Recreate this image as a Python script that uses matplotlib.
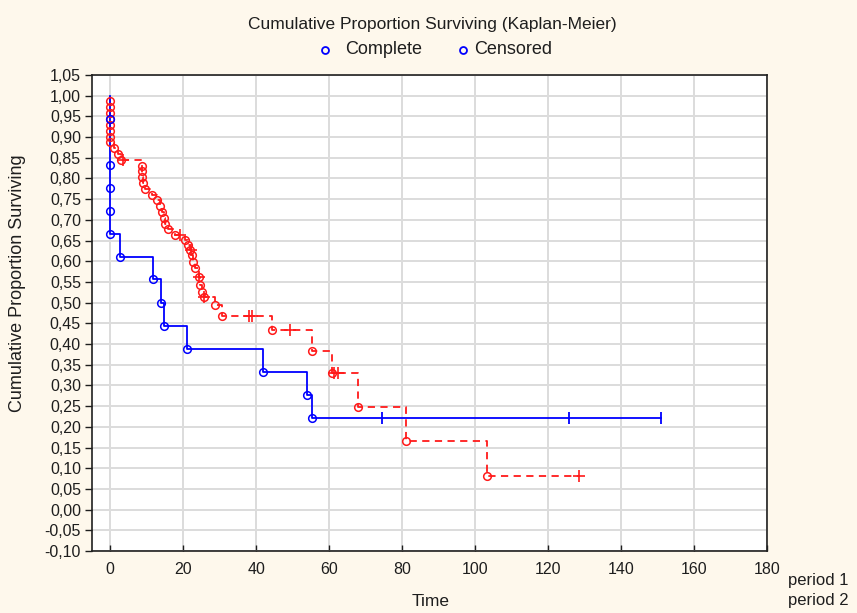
import matplotlib
matplotlib.use("Agg")
import matplotlib.pyplot as plt
from matplotlib.lines import Line2D
import numpy as np

plt.rcParams['font.family'] = ['Liberation Sans', 'DejaVu Sans']

# ---- data ----
# period 1 (blue, solid): event times and survival after each event
p1_event_t = [0, 0, 0, 0, 0, 2.8, 11.8, 14.0, 14.8, 21.0, 42.0, 54.0, 55.3]
p1_event_s = [0.944, 0.833, 0.778, 0.722, 0.667, 0.611, 0.556, 0.500, 0.444,
              0.389, 0.333, 0.278, 0.222]
p1_cens_t = [74.6, 125.8, 151.0]
p1_cens_s = [0.222, 0.222, 0.222]

# period 2 (red, dashed)
p2_event_t = [0, 0, 0, 0, 0, 0, 0, 0, 1.0, 2.0, 3.0,
              8.7, 8.7, 8.7, 9.0, 9.6, 11.5, 12.8, 13.6, 14.2, 14.6, 15.0, 15.7, 17.8,
              20.5, 21.2, 21.9, 22.4, 22.8, 23.3, 24.2, 24.7, 25.1, 25.6,
              28.8, 30.6, 44.3, 55.3, 60.7, 68.0, 81.1, 103.2]
p2_event_s = [0.986, 0.972, 0.958, 0.944, 0.930, 0.915, 0.901, 0.887, 0.873, 0.859, 0.845,
              0.831, 0.817, 0.803, 0.789, 0.775, 0.761, 0.747, 0.733, 0.719, 0.705, 0.691, 0.677, 0.663,
              0.651, 0.639, 0.627, 0.615, 0.599, 0.583, 0.563, 0.543, 0.526, 0.514,
              0.494, 0.468, 0.435, 0.384, 0.329, 0.247, 0.165, 0.082]
p2_cens_t = [3.6, 19.2, 22.0, 24.4, 25.8, 37.9, 38.8, 49.3, 61.3, 62.5, 128.6]
p2_cens_s = [0.845, 0.663, 0.627, 0.563, 0.514, 0.468, 0.468, 0.435, 0.329, 0.329, 0.082]

x_ticks = [0, 20, 40, 60, 80, 100, 120, 140, 160, 180]
y_ticks = [round(-0.10 + 0.05 * i, 2) for i in range(24)]

title = "Cumulative Proportion Surviving (Kaplan-Meier)"
legend_labels = ["Complete", "Censored"]
group_labels = ["period 1", "period 2"]
x_label = "Time"
y_label = "Cumulative Proportion Surviving"

# ---- figure ----
txt = '#1E1E1E'
fig = plt.figure(figsize=(8.57, 6.13), dpi=100, facecolor='#FEF8EC')
ax = fig.add_axes([92/857, 1 - 551/613, (767 - 92)/857, (551 - 75)/613])
ax.set_facecolor('white')


def km_path(ev_t, ev_s, cens_t):
    end_t = max(ev_t + cens_t)
    xs = [0] + list(ev_t) + [end_t]
    ys = [1.0] + list(ev_s) + [ev_s[-1]]
    return xs, ys


bx, by = km_path(p1_event_t, p1_event_s, p1_cens_t)
rx, ry = km_path(p2_event_t, p2_event_s, p2_cens_t)

blue = '#0000FF'
red = '#FF1A1A'

ax.plot(bx, by, drawstyle='steps-post', color=blue, lw=1.3, zorder=4)
ax.plot(rx, ry, drawstyle='steps-post', color=red, lw=1.3, ls=(0, (4, 3)), zorder=3)

ax.plot(p1_event_t, p1_event_s, 'o', mfc='none', mec=blue, ms=5.5, mew=1.1, zorder=5)
ax.plot(p1_cens_t, p1_cens_s, '|', color=blue, ms=9, mew=1.3, zorder=5)
ax.plot(p2_event_t, p2_event_s, 'o', mfc='none', mec=red, ms=5.5, mew=1.1, zorder=4)
ax.plot(p2_cens_t, p2_cens_s, '+', color=red, ms=9, mew=1.2, zorder=4)

ax.set_xlim(-5, 180)
ax.set_ylim(-0.10, 1.05)
ax.set_xticks(x_ticks)
ax.set_yticks(y_ticks)
ax.set_yticklabels([f"{v:.2f}".replace('.', ',') for v in y_ticks])
ax.grid(True, color='#DCDCDC', lw=1.4, zorder=0)
ax.set_axisbelow(True)
for s in ax.spines.values():
    s.set_color('#202020')
    s.set_linewidth(1.2)
ax.tick_params(axis='y', direction='out', length=5, width=1, labelsize=11.5, pad=3, colors=txt)
ax.tick_params(axis='x', direction='in', length=4, width=1, labelsize=11.5, pad=8, colors=txt)

fig.text(431/857, 1 - 601/613, x_label, ha='center', va='center', fontsize=12.5, color=txt)
fig.text(18/857, 1 - 283/613, y_label, ha='center', va='center', rotation=90,
         fontsize=13, color=txt)

fig.text(432/857, 1 - 25/613, title, ha='center', va='center', fontsize=12.5, color=txt)
# legend
for (mx, tx), lab in zip([(325, 345), (463, 474)], legend_labels):
    fig.add_artist(Line2D([mx/857], [1 - 50/613], marker='o', mfc='none', mec=blue,
                          ms=5, mew=1.3, ls='none', transform=fig.transFigure))
    fig.text(tx/857, 1 - 50/613, lab, ha='left', va='center', fontsize=13, color=txt)

fig.text(788/857, 1 - 580/613, group_labels[0], ha='left', va='center', fontsize=12, color=txt)
fig.text(788/857, 1 - 601/613, group_labels[1], ha='left', va='center', fontsize=12, color=txt)

fig.savefig("out.png", dpi=100, facecolor=fig.get_facecolor())
